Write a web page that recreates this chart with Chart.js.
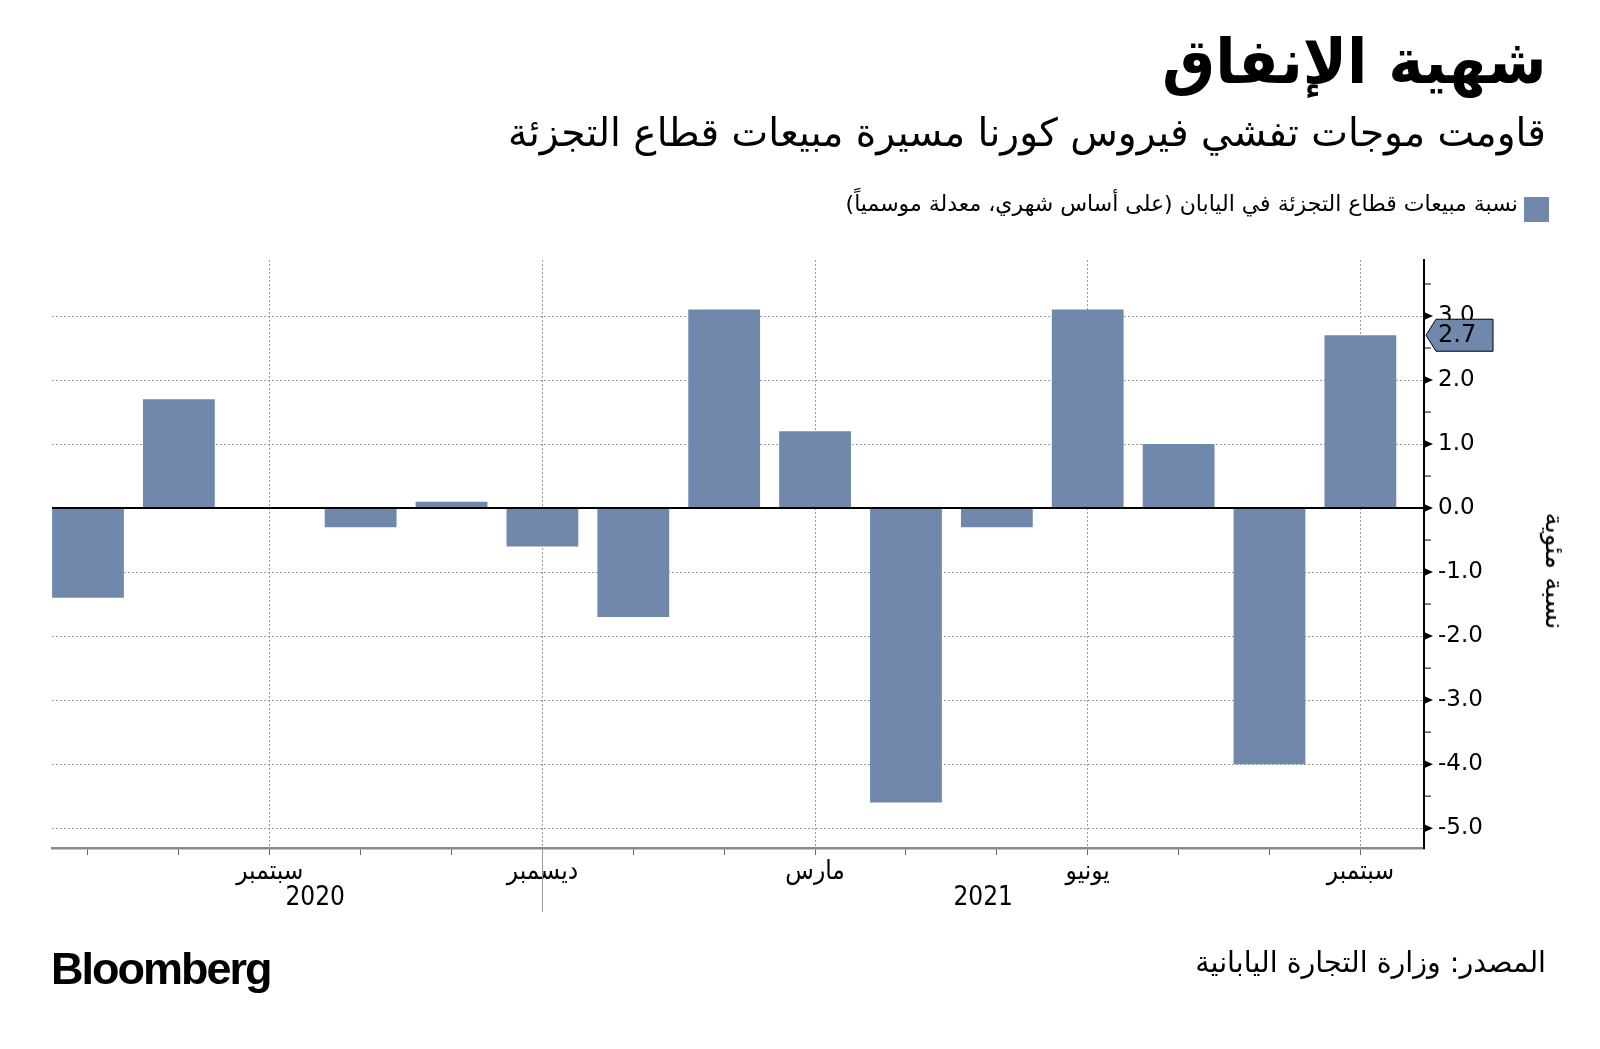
<!DOCTYPE html>
<html lang="ar">
<head>
<meta charset="utf-8">
<script src="https://cdn.jsdelivr.net/npm/chart.js@4.4.0/dist/chart.umd.min.js"></script>
<style>
  html, body { margin: 0; padding: 0; background: #fff; }
  body { width: 1600px; height: 1049px; position: relative; overflow: hidden; font-family: "DejaVu Sans", sans-serif; }
  #chart { position: absolute; left: 0; top: 0; }
  .txt { position: absolute; direction: rtl; white-space: nowrap; color: #000; }
  #title { right: 54px; top: 25px; font-size: 62px; font-weight: 700; transform: scaleX(0.96); transform-origin: right center; }
  #subtitle { right: 54px; top: 110px; font-size: 39px; }
  #legend { right: 82px; top: 191px; font-size: 22px; }
  #legendBox { position: absolute; left: 1524px; top: 197px; width: 25px; height: 25px; background: #7088ab; }
  #source { right: 54px; top: 946px; font-size: 28.5px; }
  #logo { position: absolute; left: 51px; top: 943px; font-family: "Liberation Sans", Arial, sans-serif; font-weight: 700; font-size: 45px; letter-spacing: -2px; }
</style>
</head>
<body>
<canvas id="chart" width="1600" height="1049"></canvas>
<div class="txt" id="title">شهية الإنفاق</div>
<div class="txt" id="subtitle">قاومت موجات تفشي فيروس كورنا مسيرة مبيعات قطاع التجزئة</div>
<div id="legendBox"></div>
<div class="txt" id="legend">نسبة مبيعات قطاع التجزئة في اليابان (على أساس شهري، معدلة موسمياً)</div>
<div class="txt" id="source">المصدر: وزارة التجارة اليابانية</div>
<div id="logo">Bloomberg</div>
<script>
// Jul 2020 .. Sep 2021, monthly change in %
const months = ['يوليو', 'أغسطس', 'سبتمبر', 'أكتوبر', 'نوفمبر', 'ديسمبر', 'يناير', 'فبراير', 'مارس', 'أبريل', 'مايو', 'يونيو', 'يوليو', 'أغسطس', 'سبتمبر'];
const monthLabels = ['', '', 'سبتمبر', '', '', 'ديسمبر', '', '', 'مارس', '', '', 'يونيو', '', '', 'سبتمبر'];
const salesChange = [-1.4, 1.7, 0, -0.3, 0.1, -0.6, -1.7, 3.1, 1.2, -4.6, -0.3, 3.1, 1.0, -4.0, 2.7];
const yTicks = [-5, -4, -3, -2, -1, 0, 1, 2, 3];
const yearLabels = ['2020', '2021'];
const lastValue = salesChange[salesChange.length - 1];

const barColor = '#7088ab';
const gridColor = '#9a9a9a';

// extra drawing: zero line, tick markers on the right axis, year row, last value tag
const extras = {
  id: 'extras',
  afterDatasetsDraw(chart) {
    const { ctx, chartArea, scales: { y } } = chart;
    const y0 = y.getPixelForValue(0);
    ctx.save();
    ctx.strokeStyle = '#000';
    ctx.lineWidth = 2;
    ctx.beginPath();
    ctx.moveTo(chartArea.left, y0);
    ctx.lineTo(chartArea.right, y0);
    ctx.stroke();
    ctx.restore();
  },
  afterDraw(chart) {
    const { ctx, chartArea, scales: { x, y } } = chart;
    const ax = chartArea.right;
    ctx.save();
    // major tick triangles and minor tick lines
    ctx.fillStyle = '#000';
    ctx.strokeStyle = '#000';
    ctx.lineWidth = 1;
    const minor = v => {
      const pm = y.getPixelForValue(v);
      if (pm <= chartArea.top || pm >= chartArea.bottom) return;
      ctx.beginPath();
      ctx.moveTo(ax, pm);
      ctx.lineTo(ax + 7, pm);
      ctx.stroke();
    };
    yTicks.forEach(v => {
      const py = y.getPixelForValue(v);
      ctx.beginPath();
      ctx.moveTo(ax, py - 4);
      ctx.lineTo(ax + 9, py);
      ctx.lineTo(ax, py + 4);
      ctx.closePath();
      ctx.fill();
      minor(v + 0.5);
    });
    minor(yTicks[0] - 0.5);

    // year row
    ctx.font = '26px "DejaVu Sans Condensed", "DejaVu Sans"';
    ctx.textAlign = 'center';
    ctx.textBaseline = 'middle';
    ctx.fillText(yearLabels[0], x.getPixelForValue(2.5), 898);
    ctx.fillText(yearLabels[1], x.getPixelForValue(9.85), 898);
    const sx = Math.round(x.getPixelForValue(5)) + 0.5;
    ctx.strokeStyle = '#999';
    ctx.beginPath();
    ctx.moveTo(sx, chartArea.bottom + 2);
    ctx.lineTo(sx, 912);
    ctx.stroke();

    // last value tag
    const ty = y.getPixelForValue(lastValue);
    const l = ax + 2, r = ax + 69, h = 16;
    ctx.beginPath();
    ctx.moveTo(l, ty);
    ctx.lineTo(l + 10, ty - h);
    ctx.lineTo(r, ty - h);
    ctx.lineTo(r, ty + h);
    ctx.lineTo(l + 10, ty + h);
    ctx.closePath();
    ctx.fillStyle = barColor;
    ctx.fill();
    ctx.strokeStyle = '#000';
    ctx.lineWidth = 1;
    ctx.stroke();
    ctx.fillStyle = '#000';
    ctx.font = '24px "DejaVu Sans"';
    ctx.textAlign = 'left';
    ctx.fillText(lastValue.toFixed(1), l + 12, ty + 1);
    ctx.restore();
  }
};

new Chart(document.getElementById('chart'), {
  type: 'bar',
  data: {
    datasets: [{
      label: 'نسبة مبيعات قطاع التجزئة في اليابان',
      data: salesChange.map((v, i) => ({ x: i, y: v })),
      backgroundColor: barColor,
      borderWidth: 0,
      barPercentage: 0.79,
      categoryPercentage: 1
    }]
  },
  options: {
    responsive: false,
    animation: false,
    layout: { padding: { left: 52, top: 260, right: 0, bottom: 0 } },
    plugins: {
      legend: { display: false },
      tooltip: { enabled: false },
      title: { display: false }
    },
    scales: {
      x: {
        type: 'linear',
        offset: false,
        min: -0.396,
        max: 14.7,
        afterBuildTicks: s => { s.ticks = months.map((m, i) => ({ value: i })); },
        afterFit: s => { s.height = 201; },
        grid: {
          offset: false,
          color: c => (monthLabels[c.index] ? gridColor : 'transparent'),
          lineWidth: 1,
          drawTicks: true,
          tickLength: 7,
          tickColor: '#666',
          tickWidth: 1
        },
        border: { display: true, color: '#8a8a8a', width: 2.5, dash: [2, 2] },
        ticks: {
          autoSkip: false,
          maxRotation: 0,
          padding: 2,
          color: '#000',
          font: { family: '"DejaVu Sans Condensed", "DejaVu Sans"', size: 26 },
          callback: (v, i) => monthLabels[i]
        }
      },
      y: {
        position: 'right',
        min: -5.31,
        max: 3.875,
        afterBuildTicks: s => { s.ticks = yTicks.map(v => ({ value: v })); },
        afterFit: s => { s.width = 176; },
        grid: {
          color: c => (c.tick && c.tick.value === 0 ? 'transparent' : gridColor),
          lineWidth: 1,
          drawTicks: false
        },
        border: { display: true, color: '#000', width: 2, dash: [2, 2] },
        ticks: {
          padding: 14,
          color: '#000',
          font: { family: '"DejaVu Sans"', size: 23 },
          callback: v => v.toFixed(1)
        },
        title: { display: false }
      }
    }
  },
  plugins: [extras]
});

// y axis title, rotated
(function () {
  const t = document.createElement('div');
  t.className = 'txt';
  t.textContent = 'نسبة مئوية';
  t.style.cssText = 'left:1555px;top:571px;font-size:26px;transform:translate(-50%,-50%) rotate(90deg);';
  document.body.appendChild(t);
})();
</script>
</body>
</html>
